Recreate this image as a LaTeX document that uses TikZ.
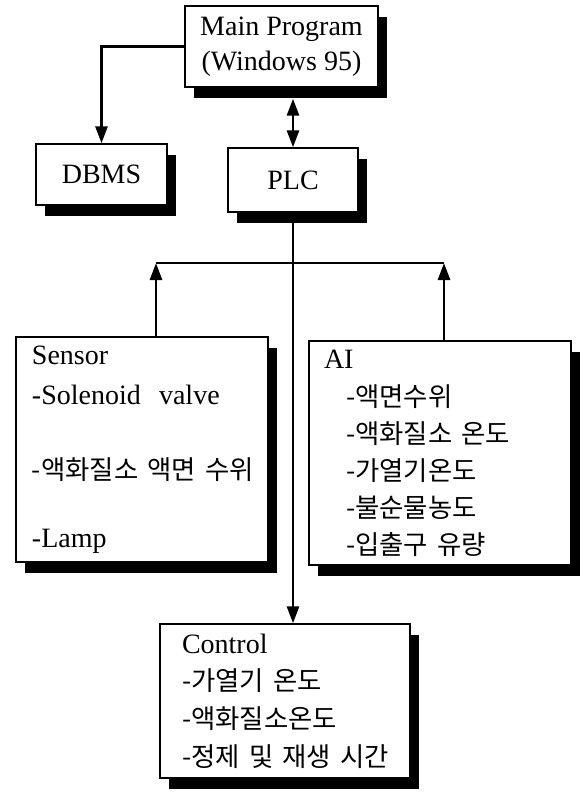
\documentclass[tikz,border=0pt]{standalone}
\usepackage{fontspec}
\setmainfont{Liberation Serif}
\newfontfamily\kr[WordSpace=2]{Noto Sans CJK KR}
\newcommand\hg[1]{\mbox{\kr\fontsize{13.2}{18.5}\selectfont #1}}
\usetikzlibrary{arrows.meta,shadows}

\tikzset{
  >={Triangle[length=8.5pt,width=6pt]},
  blk/.style={draw,line width=0.7pt,fill=white,inner sep=0pt,
    drop shadow={shadow xshift=4.5pt,shadow yshift=-5.5pt,fill=black,opacity=1}},
  lnk/.style={line width=1.4pt}
}

\begin{document}
\begin{tikzpicture}[x=0.5pt,y=-0.5pt]
\useasboundingbox (0,0) rectangle (584,793);
\node(main) at (281.5,46.5)[blk,minimum width=96.5pt,minimum height=40.5pt,align=center,
  font=\fontsize{14}{17.5}\selectfont] {Main Program\\(Windows 95)};
\node(dbms) at (101.5,174.5)[blk,minimum width=65.5pt,minimum height=30.5pt,
  font=\fontsize{14}{17.5}\selectfont] {DBMS};
\node(plc) at (293,180)[blk,minimum width=65pt,minimum height=32pt,
  font=\fontsize{14}{17.5}\selectfont] {PLC};
\node(sensor) at (142,449.5)[blk,inner xsep=8pt,text width=110pt,minimum height=112.5pt,align=left,
  font=\fontsize{14}{20}\selectfont]
  {Sensor\\-Solenoid\hspace{0.65em}valve\\[17.5pt]\hg{-액화질소 액면 수위}\\[14pt]-Lamp};
\node(ai) at (440,453)[blk,inner xsep=7.5pt,text width=116pt,minimum height=112pt,align=left,
  font=\fontsize{14}{18.5}\selectfont]
  {AI\\[0.5pt]
   \hspace*{11pt}\hg{-액면수위}\\
   \hspace*{11pt}\hg{-액화질소 온도}\\
   \hspace*{11pt}\hg{-가열기온도}\\
   \hspace*{11pt}\hg{-불순물농도}\\
   \hspace*{11pt}\hg{-입출구 유량}};
\node(control) at (285,701)[blk,inner xsep=11pt,text width=103pt,minimum height=77pt,align=left,
  font=\fontsize{14}{18.8}\selectfont]
  {Control\\\hg{-가열기 온도}\\\hg{-액화질소온도}\\\hg{-정제 및 재생 시간}};
\coordinate(sbus) at (156,263);
\coordinate(abus) at (444,263);

\draw[lnk,->] (main.west) -| (dbms.north);
\draw[lnk,<->,shorten >=5.5pt] (plc.north) -- (plc.north |- main.south);
\draw[lnk,->] (plc.south) -- (plc.south |- control.north);
\draw[lnk,->] (sbus |- sensor.north) -- (sbus);
\draw[lnk,->] (abus |- ai.north) -- (abus);
\draw[lnk] (sbus) -- (abus);

\end{tikzpicture}
\end{document}
